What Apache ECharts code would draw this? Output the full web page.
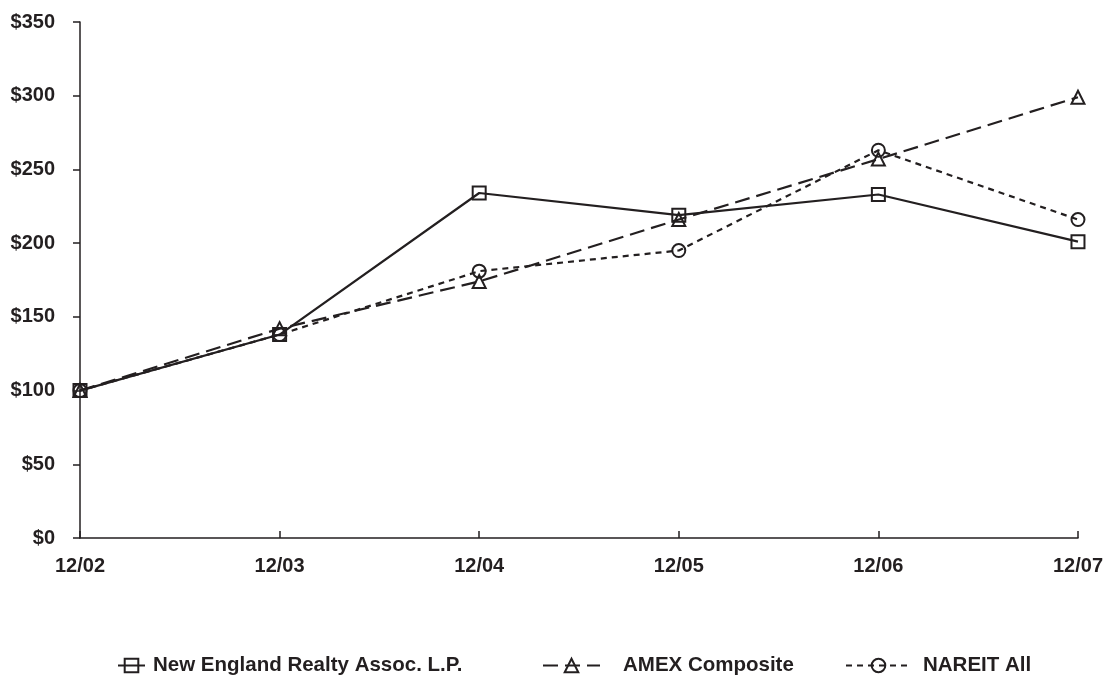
<!doctype html>
<html lang="en">
<head>
    <meta charset="UTF-8">
    <title>Cumulative Return</title>
    <script src="https://cdn.jsdelivr.net/npm/echarts@6/dist/echarts.min.js"></script>
    <style>
        html, body { margin: 0; padding: 0; background: #fff; }
        #main { width: 1106px; height: 690px; }
    </style>
</head>
<body>
<div id="main"></div>
<script type="text/javascript">
    var periods = ['12/02', '12/03', '12/04', '12/05', '12/06', '12/07'];
    var yTicks = [0, 50, 100, 150, 200, 250, 300, 350];
    var seriesNames = ['New England Realty Assoc. L.P.', 'AMEX Composite', 'NAREIT All'];
    var newEngland = [100, 138, 234, 219, 233, 201];
    var amex = [100, 142, 174, 216, 257, 299];
    var nareit = [100, 138, 181, 195, 263, 216];

    var ink = '#231f20';
    var font = 'Liberation Sans, Arial, sans-serif';

    var myChart = echarts.init(document.getElementById('main'));

    function makeSeries(name, data, symbol, dash) {
        return {
            name: name,
            type: 'line',
            data: data,
            symbol: symbol,
            symbolSize: 13,
            showAllSymbol: true,
            lineStyle: {color: ink, width: 2.2, type: dash},
            itemStyle: {color: 'rgba(0,0,0,0)', borderColor: ink, borderWidth: 2},
            emphasis: {disabled: true},
            animation: false
        };
    }

    // one legend per entry, the icons are not the same width in the original
    function makeLegend(name, left, width, gap) {
        return {
            data: [name],
            left: left,
            top: 650,
            itemWidth: width,
            itemHeight: 17,
            selectedMode: false,
            textStyle: {fontFamily: font, fontWeight: 'bold', fontSize: 20.5, color: ink,
                padding: [0, 0, 0, gap]}
        };
    }

    var option = {
        backgroundColor: '#fff',
        animation: false,
        grid: {left: 80, right: 27, top: 22, bottom: 152},
        legend: [
            makeLegend(seriesNames[0], 112, 27, 3),
            makeLegend(seriesNames[1], 537, 57, 18),
            makeLegend(seriesNames[2], 840, 65, 7)
        ],
        xAxis: {
            type: 'category',
            data: periods,
            boundaryGap: false,
            axisLine: {lineStyle: {color: ink, width: 1.5}},
            axisTick: {inside: true, length: 7, lineStyle: {color: ink, width: 1.5}},
            axisLabel: {fontFamily: font, fontWeight: 'bold', fontSize: 20, color: ink, margin: 18,
                alignMinLabel: 'center', alignMaxLabel: 'center'},
            splitLine: {show: false}
        },
        yAxis: {
            type: 'value',
            min: yTicks[0],
            max: yTicks[yTicks.length - 1],
            interval: 50,
            axisLine: {show: true, lineStyle: {color: ink, width: 1.5}},
            axisTick: {show: true, length: 7, lineStyle: {color: ink, width: 1.5}},
            axisLabel: {fontFamily: font, fontWeight: 'bold', fontSize: 20, color: ink, margin: 25,
                formatter: function (v) { return '$' + v; }},
            splitLine: {show: false}
        },
        series: [
            makeSeries(seriesNames[0], newEngland, 'rect', 'solid'),
            makeSeries(seriesNames[1], amex, 'triangle', [15, 7]),
            makeSeries(seriesNames[2], nareit, 'circle', [6, 5])
        ]
    };

    myChart.setOption(option);
</script>
</body>
</html>
